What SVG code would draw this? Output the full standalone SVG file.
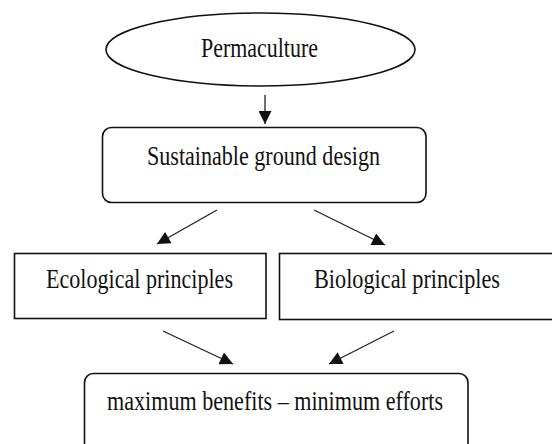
<svg xmlns="http://www.w3.org/2000/svg" width="552" height="444" viewBox="0 0 552 444">
<style>
.n{fill:#fff;stroke:#111;stroke-width:1.6}
.t{font-family:'Liberation Serif','Times New Roman',serif;font-size:27px;fill:#111;text-anchor:middle}
.c line{stroke:#222;stroke-width:1.3;marker-end:url(#ah)}
</style>
<defs>
<marker id="ah" viewBox="0 0 12 12" refX="12" refY="6" markerWidth="14" markerHeight="13" markerUnits="userSpaceOnUse" orient="auto">
<path d="M0,0 L12,6 L0,12 z" fill="#111"/>
</marker>
</defs>
<rect width="552" height="444" fill="#fff"/>
<g id="permaculture">
<ellipse class="n" cx="260.5" cy="49.5" rx="154.5" ry="36.5"/>
<text class="t" x="259.5" y="57" textLength="117" lengthAdjust="spacingAndGlyphs">Permaculture</text>
</g>
<g id="sustainable">
<rect class="n" x="102.5" y="127.5" width="323.5" height="75" rx="9"/>
<text class="t" x="263.5" y="165" textLength="233" lengthAdjust="spacingAndGlyphs">Sustainable ground design</text>
</g>
<g id="ecological">
<rect class="n" x="14.5" y="253.5" width="251.5" height="65"/>
<text class="t" x="139.5" y="288" textLength="187" lengthAdjust="spacingAndGlyphs">Ecological principles</text>
</g>
<g id="biological">
<rect class="n" x="279.5" y="253.5" width="280" height="66"/>
<text class="t" x="407" y="288" textLength="186" lengthAdjust="spacingAndGlyphs">Biological principles</text>
</g>
<g id="outcome">
<rect class="n" x="84.5" y="373.5" width="383.5" height="85" rx="9"/>
<text class="t" x="275" y="410" textLength="336" lengthAdjust="spacingAndGlyphs">maximum benefits – minimum efforts</text>
</g>
<g class="c" id="connectors">
<line x1="265" y1="95" x2="265" y2="124"/>
<line x1="217" y1="210" x2="157" y2="244"/>
<line x1="314" y1="210" x2="385" y2="245"/>
<line x1="163" y1="331" x2="233" y2="364"/>
<line x1="394" y1="331" x2="329" y2="364"/>
</g>
</svg>
